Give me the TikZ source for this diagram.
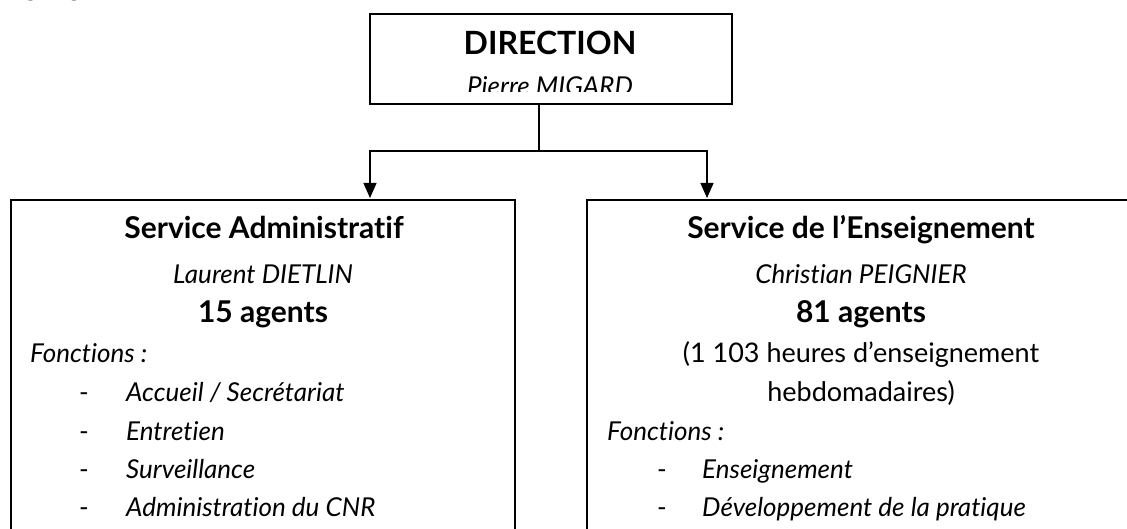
\documentclass[tikz,border=0pt]{standalone}
\usepackage{fontspec}
\setmainfont{Lato}[Ligatures=NoCommon]
\usetikzlibrary{arrows.meta}
\begin{document}
\begin{tikzpicture}[x=1pt,y=-1pt,
  frame/.style={draw=black,line width=2pt,inner sep=0pt,anchor=north west},
  conn/.style={draw=black,line width=1.3pt},
  arr/.style={conn,-{Triangle[width=13pt,length=15pt]}},
  base/.style={inner sep=0pt,anchor=base},
  itl/.style={base,font=\fontsize{26}{30}\selectfont\itshape},
  rgl/.style={base,font=\fontsize{27}{31}\selectfont},
  bld/.style={base,font=\fontsize{30}{34}\selectfont\bfseries},
  lft/.style={anchor=base west},
  dsh/.style={base,anchor=base west,font=\fontsize{26}{30}\selectfont}]
\useasboundingbox (0,0) rectangle (1127,529);
\clip (0,0) rectangle (1127,529);
% heading fragment
\node[base,anchor=base west,font=\fontsize{24}{28}\selectfont] (head) at (-3,-3) {Organigramme};
% direction
\node[frame,minimum width=362pt,minimum height=90pt] (dir) at (369,13) {};
\node[base,font=\fontsize{32}{36}\selectfont\bfseries] (dirT) at (550,55) {DIRECTION};
\begin{scope}
\clip (371,15) rectangle (729,92);
\node[base,font=\fontsize{26}{30}\selectfont\itshape] (dirN) at (550,96) {Pierre MIGARD};
\end{scope}
% services
\node[frame,minimum width=504pt,minimum height=360pt] (adm) at (10,199) {};
\node[frame,minimum width=550pt,minimum height=360pt] (ens) at (586,199) {};
% connectors
\coordinate (fork) at (539,151);
\coordinate (inA) at (370,198);
\coordinate (inE) at (707,198);
\draw[conn] (dir.south -| fork) -- (fork);
\draw[arr] (fork) -| (inA);
\draw[arr] (fork) -| (inE);
% left box text
\node[bld] (admT) at (264,239) {Service Administratif};
\node[itl] (admN) at (263,284) {Laurent DIETLIN};
\node[bld] (admA) at (263,323) {15 agents};
\node[itl,lft] (admF) at (30,362) {Fonctions :};
\foreach \y/\t [count=\i] in {401/{Accueil / Secrétariat},440/{Entretien},478/{Surveillance},516/{Administration du CNR}}{
  \node[dsh] (admD\i) at (79,\y) {-};
  \node[itl,lft] (admI\i) at (126,\y) {\t};
}
% right box text
\node[bld] (ensT) at (861,239) {Service de l’Enseignement};
\node[itl] (ensN) at (861,284) {Christian PEIGNIER};
\node[bld] (ensA) at (861,323) {81 agents};
\node[rgl] (ensH1) at (861,362) {(1 103 heures d’enseignement};
\node[rgl] (ensH2) at (861,401) {hebdomadaires)};
\node[itl,lft] (ensF) at (607,440) {Fonctions :};
\node[dsh] (ensD1) at (657,478) {-};
\node[itl,lft] (ensI1) at (702,478) {Enseignement};
\node[dsh] (ensD2) at (657,516) {-};
\node[itl,lft] (ensI2) at (702,516) {Développement de la pratique};
\end{tikzpicture}
\end{document}
